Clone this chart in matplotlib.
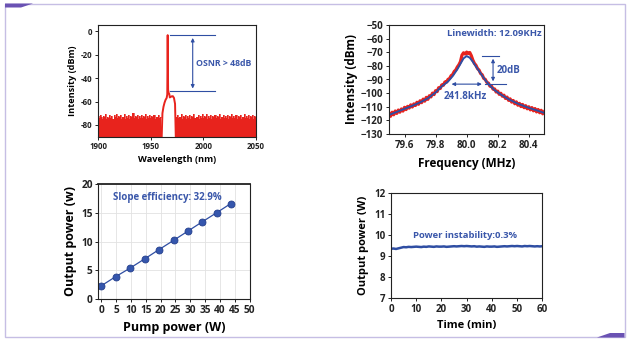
import numpy as np
import matplotlib
matplotlib.use("Agg")
import matplotlib.pyplot as plt
from matplotlib.patches import Rectangle, Polygon

plt.rcParams['font.family'] = ['Open Sans', 'DejaVu Sans']
plt.rcParams['font.weight'] = 'bold'

RED = '#e8231d'
BLUE = '#2f4ea3'
TXT_BLUE = '#3a57aa'

## (a) optical spectrum
wl_left = np.arange(1900, 1961)
floor_left = [-72.5, -74, -71.8, -73.5, -75, -72, -73.2, -71, -74.5, -72.8,
              -73.9, -71.5, -74.2, -72.6, -75.3, -71.9, -73, -70.5, -74, -72.3,
              -73.6, -71.2, -75, -72.9, -73.4, -70.8, -74.6, -72.1, -73.8, -71.6,
              -74.9, -72.4, -73.1, -70.2, -74.3, -72.7, -73.5, -71.3, -75.2, -72,
              -73.7, -71.8, -74.1, -72.5, -73.3, -70.9, -74.7, -72.2, -73.9, -71.4,
              -74.4, -72.6, -73, -71.1, -75.1, -72.8, -73.6, -71.7, -74, -72.9, -73.2]
wl_right = np.arange(1974, 2051)
floor_right = [-73.4, -71.5, -74.2, -72.8, -73.6, -70.7, -74.8, -72.1, -73.3, -71.9,
               -74.5, -72.4, -73.8, -71.2, -75, -72.6, -73.1, -70.4, -74.3, -72.9,
               -73.5, -71.6, -74.9, -72.2, -73.7, -71, -74.1, -72.7, -73.2, -70.6,
               -74.6, -72.3, -73.9, -71.4, -75.2, -72.5, -73.4, -71.8, -74, -72,
               -73.6, -70.3, -74.7, -72.8, -73, -71.3, -74.4, -72.1, -73.8, -71.7,
               -75.1, -72.4, -73.3, -70.8, -74.2, -72.6, -73.7, -71.1, -74.8, -72.2,
               -73.5, -71.5, -74.5, -72.9, -73.1, -70.5, -74.1, -72.3, -73.9, -71.9,
               -74.6, -72.7, -73.4, -71.2, -74.9, -72, -73.6]
wl_peak = [1960.3, 1961, 1962, 1963, 1964, 1965, 1965.6, 1966, 1966.4, 1967, 1967.5,
           1968, 1969, 1970, 1971, 1972, 1973, 1973.7]
lvl_peak = [-90, -70, -64.5, -61, -58.5, -57, -54, -3.4, -50, -53, -53.5,
            -56.5, -56, -55.5, -55.5, -57, -62, -90]

## (b) beat-note spectrum
freq = np.round(np.arange(79.50, 80.505, 0.01), 2)
beat_db = [-114.8, -117.0, -114.0, -115.9, -113.1, -114.9, -112.4, -114.0, -111.6, -113.2,
           -110.4, -112.1, -109.7, -111.0, -108.6, -110.2, -107.9, -109.1, -106.7, -108.2,
           -105.6, -107.0, -104.4, -105.9, -103.1, -104.6, -101.9, -102.8, -100.0, -101.1,
           -98.2, -98.9, -96.0, -96.6, -93.9, -94.3, -91.8, -92.0, -89.9, -89.3,
           -87.2, -86.4, -84.1, -83.0, -80.8, -79.2, -76.9, -72.1, -70.4, -71.3,
           -69.9, -71.0, -70.2, -72.5, -75.8, -78.2, -79.6, -82.0, -83.1, -85.6,
           -86.5, -89.2, -89.9, -92.1, -92.6, -94.9, -94.8, -97.1, -96.9, -99.2,
           -98.5, -100.9, -100.1, -102.3, -101.5, -103.9, -102.9, -105.3, -104.2, -106.6,
           -105.4, -107.8, -106.4, -108.9, -107.5, -109.9, -108.3, -110.7, -109.2, -111.5,
           -110.0, -112.3, -110.6, -113.0, -111.3, -113.8, -112.0, -114.4, -112.6, -115.2,
           -113.6]
fit_f = [79.50, 79.55, 79.60, 79.65, 79.70, 79.75, 79.80, 79.84, 79.88, 79.91, 79.94,
         79.96, 79.98, 80.00, 80.02, 80.04, 80.06, 80.09, 80.12, 80.15, 80.18, 80.22,
         80.27, 80.33, 80.40, 80.45, 80.50]
fit_db = [-116, -113.8, -111.5, -109.3, -106.8, -103.8, -99.5, -95, -91.5, -87.5, -82.5,
          -78.5, -74.5, -72.8, -74, -77, -80.5, -85.5, -90.5, -94.5, -97.8, -101,
          -104.5, -107.8, -110.8, -112.6, -114.5]

## (c) slope efficiency
pump = [0, 4.9, 9.8, 14.7, 19.5, 24.4, 29.2, 34.0, 38.9, 43.7]
output = [2.3, 3.9, 5.4, 7.0, 8.6, 10.2, 11.8, 13.4, 15.0, 16.6]

## (d) power stability
minutes = np.arange(0, 61)
power = [9.36, 9.37, 9.35, 9.38, 9.41, 9.44, 9.43, 9.45, 9.44, 9.45,
         9.46, 9.45, 9.44, 9.46, 9.45, 9.47, 9.46, 9.45, 9.47, 9.46,
         9.46, 9.47, 9.45, 9.46, 9.47, 9.48, 9.47, 9.48, 9.49, 9.48,
         9.49, 9.48, 9.47, 9.48, 9.46, 9.47, 9.46, 9.45, 9.47, 9.46,
         9.46, 9.47, 9.45, 9.46, 9.47, 9.48, 9.47, 9.48, 9.49, 9.48,
         9.49, 9.48, 9.47, 9.49, 9.48, 9.49, 9.48, 9.47, 9.48, 9.47, 9.48]

W, H = 629, 340
fig = plt.figure(figsize=(W / 100, H / 100), dpi=100)


def px_axes(x0, y0, x1, y1):
    return fig.add_axes([x0 / W, 1 - y1 / H, (x1 - x0) / W, (y1 - y0) / H])


def style(ax, size):
    for s in ax.spines.values():
        s.set_linewidth(0.8)
        s.set_color('#222222')
    ax.tick_params(direction='out', length=2.5, width=0.7, labelsize=size, pad=1.5,
                   colors='#222222')
    for lab in ax.get_xticklabels() + ax.get_yticklabels():
        lab.set_fontweight('bold')


# frame
fig.patches.append(Rectangle((5 / W, 1 - 337 / H), 619.5 / W, 333 / H, transform=fig.transFigure,
                             fill=False, edgecolor='#c6bee4', lw=1.0))
fig.patches.append(Polygon([(5 / W, 1 - 3.5 / H), (33 / W, 1 - 3.5 / H), (21 / W, 1 - 7.5 / H),
                            (5 / W, 1 - 7.5 / H)], closed=True, transform=fig.transFigure,
                           color='#6a52b3', lw=0))
fig.patches.append(Polygon([(597 / W, 1 - 337.5 / H), (610 / W, 1 - 333 / H), (624.5 / W, 1 - 333 / H),
                            (624.5 / W, 1 - 337.5 / H)], closed=True, transform=fig.transFigure,
                           color='#6a52b3', lw=0))

# (a)
ax1 = px_axes(98.3, 25.3, 256, 136.7)
ax1.fill_between(wl_left, -95, floor_left, step='mid', color=RED, lw=0)
ax1.fill_between(wl_right, -95, floor_right, step='mid', color=RED, lw=0)
ax1.plot(wl_left, floor_left, color=RED, lw=0.5, drawstyle='steps-mid')
ax1.plot(wl_right, floor_right, color=RED, lw=0.5, drawstyle='steps-mid')
ax1.plot(wl_peak, lvl_peak, color=RED, lw=1.4)
ax1.set_xlim(1900, 2050)
ax1.set_ylim(-90, 5)
ax1.set_xticks([1900, 1950, 2000, 2050])
ax1.set_yticks([-80, -60, -40, -20, 0], ['-80', '-60', '-40', '-20', '0'])
style(ax1, 5.7)
ax1.set_xlabel('Wavelength (nm)', fontsize=6.6, fontweight='bold', labelpad=3)
ax1.set_ylabel('Intensity (dBm)', fontsize=6.6, fontweight='bold', labelpad=3)
ax1.plot([1968.2, 2011], [-3.4, -3.4], color=BLUE, lw=0.8)
ax1.plot([1968.2, 2011], [-51.3, -51.3], color=BLUE, lw=0.8)
ax1.annotate('', xy=(1989.8, -51.3), xytext=(1989.8, -3.4),
             arrowprops=dict(arrowstyle='<|-|>', color=BLUE, lw=0.8, mutation_scale=5))
ax1.text(1993, -27.6, 'OSNR > 48dB', color=TXT_BLUE, fontsize=6.3, fontweight='bold',
         ha='left', va='center')

# (b)
ax2 = px_axes(389, 25, 544.3, 134)
ax2.plot(freq, beat_db, color=RED, lw=2.3)
ax2.plot(fit_f, fit_db, color=BLUE, lw=1.4)
ax2.set_xlim(79.5, 80.5)
ax2.set_ylim(-130, -50)
ax2.set_xticks([79.6, 79.8, 80.0, 80.2, 80.4])
ax2.set_yticks(np.arange(-130, -49, 10))
style(ax2, 7)
ax2.set_xlabel('Frequency (MHz)', fontsize=8.5, fontweight='bold', labelpad=5)
ax2.set_ylabel('Intensity (dBm)', fontsize=8.5, fontweight='bold', labelpad=2)
ax2.plot([80.099, 80.209], [-72.7, -72.7], color=BLUE, lw=0.8)
ax2.plot([80.116, 80.252], [-93.4, -93.4], color=BLUE, lw=0.8)
ax2.annotate('', xy=(80.17, -93.4), xytext=(80.17, -72.7),
             arrowprops=dict(arrowstyle='<|-|>', color=BLUE, lw=0.8, mutation_scale=5))
ax2.annotate('', xy=(79.885, -93.4), xytext=(80.116, -93.4),
             arrowprops=dict(arrowstyle='<|-|>', color=BLUE, lw=0.8, mutation_scale=5))
ax2.text(80.19, -83.2, '20dB', color=TXT_BLUE, fontsize=7, fontweight='bold', ha='left', va='center')
ax2.text(79.993, -102.5, '241.8kHz', color=TXT_BLUE, fontsize=7, fontweight='bold',
         ha='center', va='center')
ax2.text(80.18, -56.6, 'Linewidth: 12.09KHz', color=TXT_BLUE, fontsize=6.8, fontweight='bold',
         ha='center', va='center')

# (c)
ax3 = px_axes(98.3, 184, 249.5, 299)
ax3.grid(True, color='#e2e2e2', lw=0.6)
ax3.set_axisbelow(True)
ax3.plot(pump, output, color=BLUE, lw=0.9, marker='o', ms=5, mfc='#3556ad',
         mec='#243f8c', mew=0.6)
ax3.set_xlim(-1, 50)
ax3.set_ylim(0, 20)
ax3.set_xticks(np.arange(0, 51, 5))
ax3.set_yticks([0, 5, 10, 15, 20])
style(ax3, 7.3)
ax3.spines['top'].set_linewidth(1.3)
ax3.set_xlabel('Pump power (W)', fontsize=9, fontweight='bold', labelpad=4)
ax3.set_ylabel('Output power (w)', fontsize=9, fontweight='bold', labelpad=3)
ax3.text(4, 17.6, 'Slope efficiency: 32.9%', color=TXT_BLUE, fontsize=7, fontweight='bold',
         ha='left', va='center')

# (d)
ax4 = px_axes(391, 193.3, 542.3, 298.3)
ax4.plot(minutes, power, color=BLUE, lw=1.8)
ax4.set_xlim(0, 60)
ax4.set_ylim(7, 12)
ax4.set_xticks(np.arange(0, 61, 10))
ax4.set_yticks(np.arange(7, 13, 1))
style(ax4, 7)
ax4.set_xlabel('Time (min)', fontsize=8, fontweight='bold', labelpad=4)
ax4.set_ylabel('Output power (W)', fontsize=8, fontweight='bold', labelpad=4)
ax4.text(29.4, 10.0, 'Power instability:0.3%', color=TXT_BLUE, fontsize=6.8, fontweight='bold',
         ha='center', va='center')

fig.savefig('out.png', dpi=100)
